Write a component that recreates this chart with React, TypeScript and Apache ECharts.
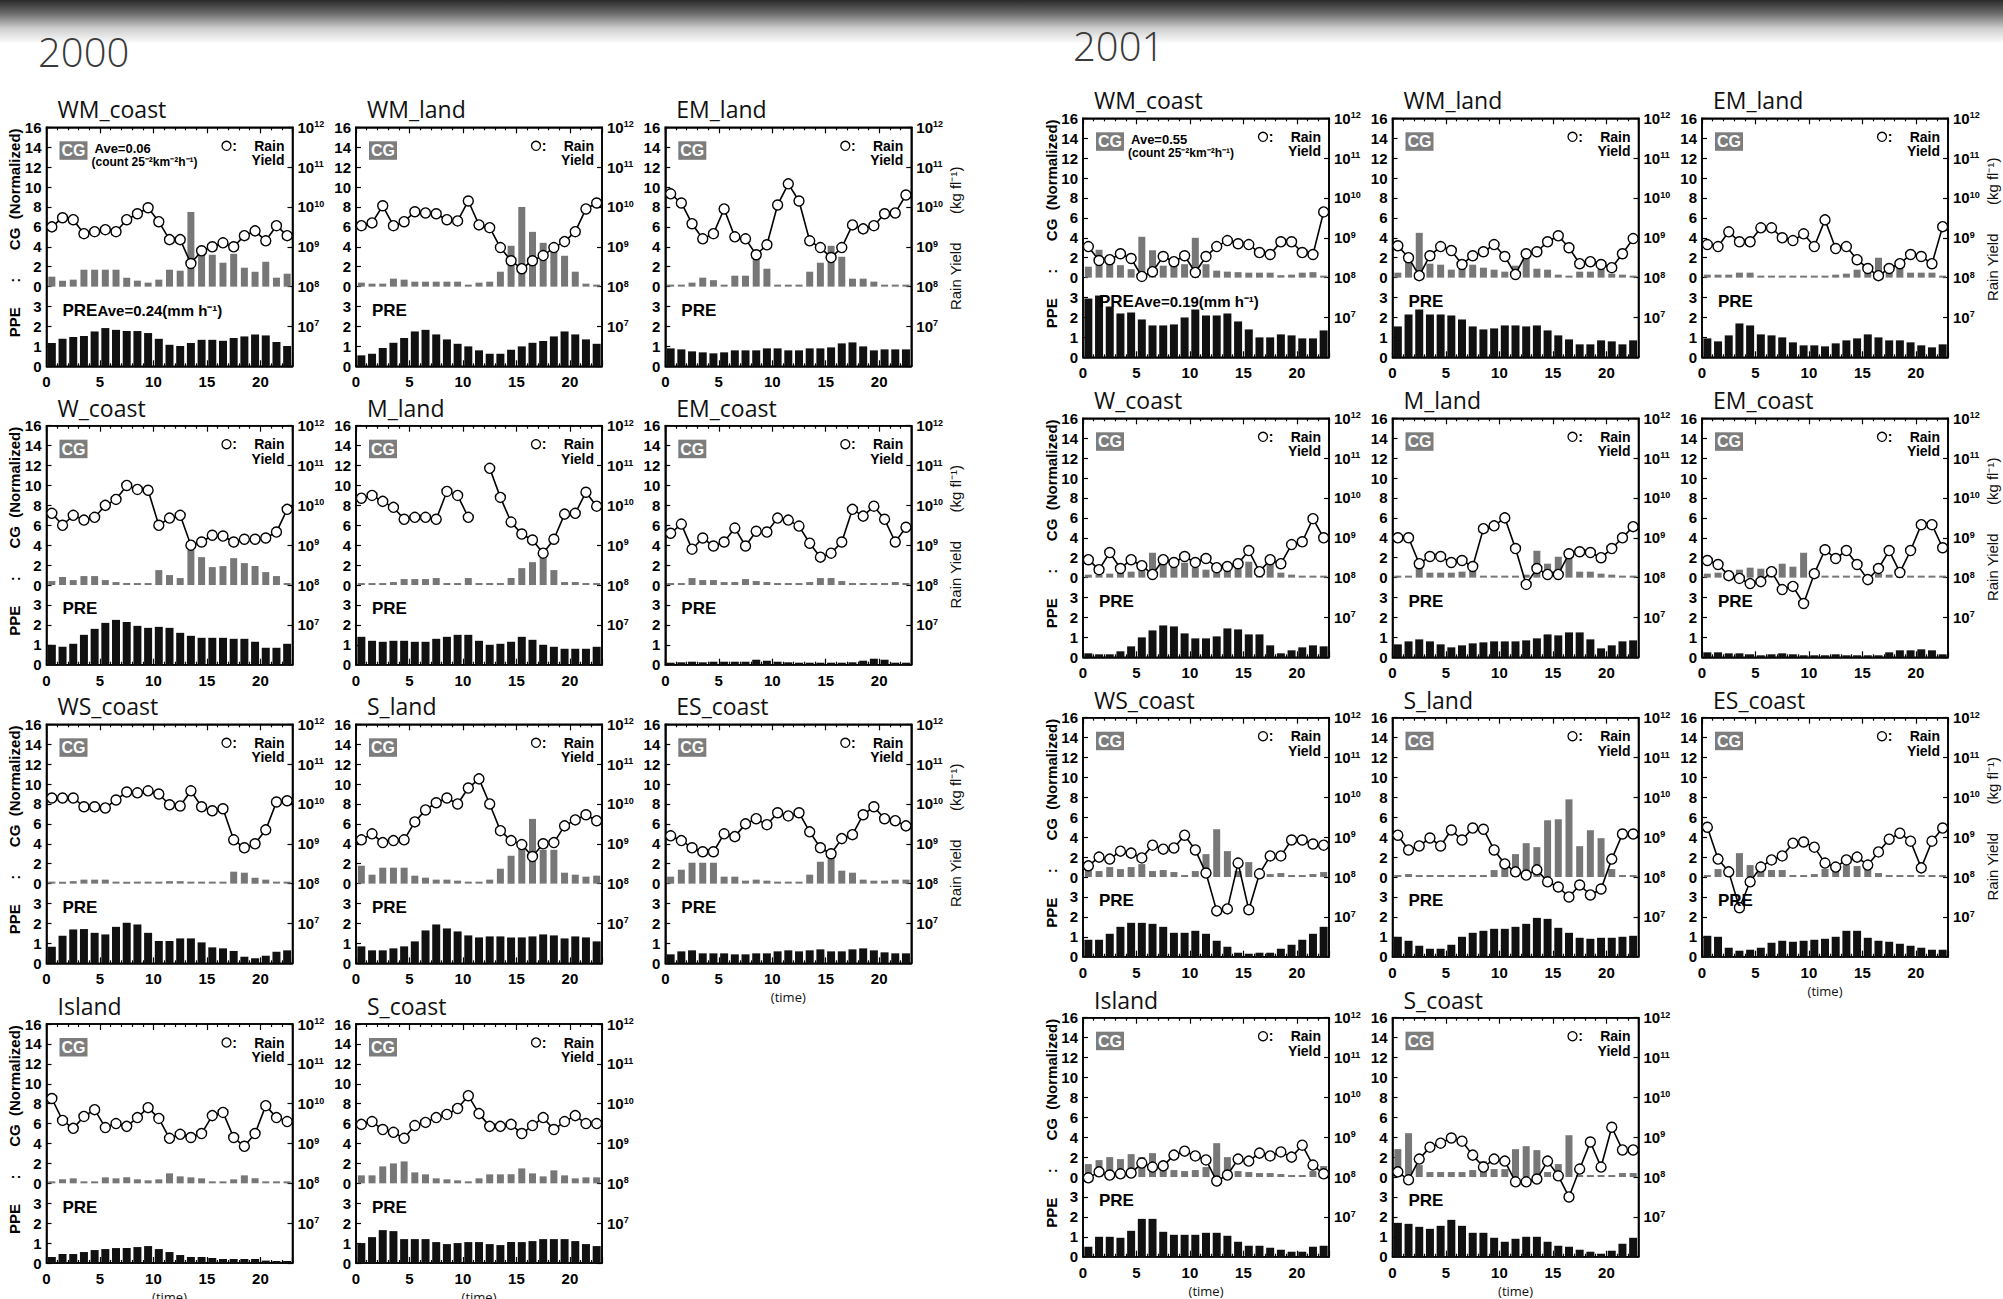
import React, { useEffect, useRef } from 'react';
import * as echarts from 'echarts';

// ---------- categories ----------
const HOUR_MID = [0.5, 1.5, 2.5, 3.5, 4.5, 5.5, 6.5, 7.5, 8.5, 9.5, 10.5, 11.5, 12.5, 13.5, 14.5, 15.5, 16.5, 17.5, 18.5, 19.5, 20.5, 21.5, 22.5];
const REGIONS = ['WM_coast', 'WM_land', 'EM_land', 'W_coast', 'M_land', 'EM_coast', 'WS_coast', 'S_land', 'ES_coast', 'Island', 'S_coast'];
const YEARS = ['2000', '2001'];
const RY_TICKS = [7, 8, 9, 10, 11, 12]; // log10 rain yield labels (10^n)

// ---------- 2000 ----------  CG: normalized CG, RY: log10 rain yield (kg fl^-1), PRE: mm h^-1
const CG_2000_WM_COAST = [1.0, 0.6, 0.7, 1.7, 1.7, 1.7, 1.7, 0.9, 0.6, 0.4, 0.7, 1.7, 1.6, 7.5, 3.5, 3.2, 2.4, 3.3, 1.9, 1.5, 2.5, 0.9, 1.3];
const RY_2000_WM_COAST = [9.50, 9.73, 9.68, 9.33, 9.38, 9.43, 9.38, 9.68, 9.83, 9.98, 9.63, 9.18, 9.18, 8.58, 8.90, 9.00, 9.10, 9.00, 9.28, 9.40, 9.15, 9.53, 9.28];
const PRE_2000_WM_COAST = [1.17, 1.38, 1.47, 1.52, 1.75, 1.92, 1.83, 1.77, 1.77, 1.67, 1.38, 1.08, 1.02, 1.17, 1.33, 1.33, 1.28, 1.42, 1.5, 1.6, 1.55, 1.22, 1.02];

const CG_2000_WM_LAND = [0.4, 0.3, 0.3, 0.8, 0.7, 0.5, 0.5, 0.5, 0.5, 0.5, 0.1, 0.4, 0.5, 1.5, 4.1, 8.0, 5.5, 4.4, 3.8, 3.1, 1.5, 0.3, 0.2];
const RY_2000_WM_LAND = [9.53, 9.60, 10.03, 9.53, 9.63, 9.88, 9.85, 9.83, 9.68, 9.65, 10.15, 9.55, 9.48, 8.98, 8.65, 8.45, 8.65, 8.78, 8.98, 9.13, 9.38, 9.95, 10.10];
const PRE_2000_WM_LAND = [0.55, 0.63, 0.92, 1.18, 1.42, 1.75, 1.83, 1.6, 1.35, 1.13, 1.0, 0.8, 0.63, 0.63, 0.83, 1.0, 1.18, 1.27, 1.5, 1.75, 1.6, 1.35, 1.13];

const CG_2000_EM_LAND = [0.15, 0.15, 0.4, 0.9, 0.65, 0.2, 1.1, 1.1, 3.0, 1.8, 0.15, 0.05, 0.15, 1.5, 2.4, 4.1, 3.0, 0.8, 0.8, 0.5, 0.2, 0.2, 0.2];
const RY_2000_EM_LAND = [10.33, 10.10, 9.58, 9.20, 9.33, 9.95, 9.25, 9.20, 8.80, 9.05, 10.05, 10.58, 10.15, 9.15, 8.98, 8.73, 8.98, 9.55, 9.45, 9.53, 9.83, 9.85, 10.30];
const PRE_2000_EM_LAND = [0.9, 0.85, 0.75, 0.7, 0.65, 0.7, 0.8, 0.8, 0.8, 0.9, 0.9, 0.8, 0.8, 0.9, 0.9, 0.95, 1.15, 1.2, 1.0, 0.8, 0.85, 0.85, 0.85];

const CG_2000_W_COAST = [0.4, 0.8, 0.5, 0.9, 0.9, 0.5, 0.3, 0.15, 0.15, 0.15, 1.5, 1.0, 0.7, 3.5, 2.8, 1.8, 1.9, 2.7, 2.2, 1.9, 1.3, 0.9, 0.2];
const RY_2000_W_COAST = [9.80, 9.50, 9.75, 9.63, 9.70, 10.00, 10.15, 10.50, 10.40, 10.38, 9.50, 9.68, 9.75, 9.00, 9.08, 9.25, 9.23, 9.08, 9.15, 9.15, 9.18, 9.33, 9.90];
const PRE_2000_W_COAST = [1.0, 0.9, 1.05, 1.5, 1.8, 2.1, 2.25, 2.15, 1.95, 1.85, 1.9, 1.85, 1.6, 1.45, 1.35, 1.35, 1.35, 1.3, 1.3, 1.15, 0.85, 0.85, 1.05];

const CG_2000_M_LAND = [0.15, 0.15, 0.2, 0.3, 0.6, 0.6, 0.6, 0.7, 0.2, 0.2, 0.7, 0.05, 0.05, 0.2, 0.7, 1.7, 2.3, 3.0, 1.5, 0.3, 0.3, 0.1, 0.2];
const RY_2000_M_LAND = [10.18, 10.25, 10.10, 9.95, 9.65, 9.70, 9.70, 9.65, 10.35, 10.25, 9.70, null, 10.93, 10.20, 9.58, 9.28, 9.13, 8.80, 9.15, 9.78, 9.80, 10.33, 9.98];
const PRE_2000_M_LAND = [1.4, 1.2, 1.15, 1.2, 1.2, 1.15, 1.15, 1.3, 1.4, 1.5, 1.5, 1.2, 1.0, 1.05, 1.15, 1.4, 1.25, 1.0, 0.9, 0.8, 0.8, 0.8, 0.9];

const CG_2000_EM_COAST = [0.15, 0.2, 0.7, 0.5, 0.5, 0.3, 0.3, 0.6, 0.4, 0.3, 0.15, 0.15, 0.15, 0.3, 0.7, 0.7, 0.4, 0.15, 0.15, 0.15, 0.1, 0.3, 0.1];
const RY_2000_EM_COAST = [9.30, 9.53, 8.90, 9.18, 8.98, 9.08, 9.43, 8.98, 9.35, 9.33, 9.68, 9.63, 9.48, 9.05, 8.70, 8.80, 9.08, 9.90, 9.73, 9.98, 9.65, 9.08, 9.45];
const PRE_2000_EM_COAST = [0.08, 0.12, 0.15, 0.12, 0.15, 0.15, 0.15, 0.15, 0.25, 0.2, 0.15, 0.12, 0.1, 0.08, 0.05, 0.08, 0.1, 0.12, 0.2, 0.3, 0.25, 0.1, 0.08];

const CG_2000_WS_COAST = [0.15, 0.15, 0.25, 0.4, 0.4, 0.4, 0.2, 0.2, 0.2, 0.15, 0.15, 0.25, 0.25, 0.15, 0.2, 0.2, 0.2, 1.2, 1.1, 0.6, 0.4, 0.1, 0.1];
const RY_2000_WS_COAST = [10.15, 10.15, 10.15, 9.93, 9.93, 9.90, 10.10, 10.30, 10.28, 10.33, 10.25, 9.98, 9.95, 10.33, 9.93, 9.83, 9.88, 9.10, 8.90, 9.00, 9.35, 10.05, 10.08];
const PRE_2000_WS_COAST = [0.83, 1.38, 1.7, 1.72, 1.53, 1.45, 1.83, 2.03, 1.95, 1.53, 1.12, 1.12, 1.25, 1.25, 1.05, 0.8, 0.75, 0.62, 0.33, 0.25, 0.38, 0.58, 0.65];

const CG_2000_S_LAND = [1.8, 0.9, 1.6, 1.6, 1.6, 0.8, 0.6, 0.4, 0.4, 0.3, 0.1, 0.05, 0.4, 1.5, 2.8, 3.5, 6.5, 3.4, 3.4, 1.1, 0.9, 0.7, 0.8];
const RY_2000_S_LAND = [9.10, 9.25, 9.03, 9.08, 9.10, 9.55, 9.85, 10.03, 10.15, 10.00, 10.40, 10.63, 10.00, 9.33, 9.08, 8.98, 8.68, 9.00, 9.03, 9.45, 9.60, 9.73, 9.58];
const PRE_2000_S_LAND = [0.85, 0.65, 0.65, 0.75, 0.85, 1.1, 1.65, 1.95, 1.75, 1.6, 1.4, 1.3, 1.35, 1.35, 1.3, 1.3, 1.35, 1.45, 1.4, 1.25, 1.35, 1.3, 1.1];

const CG_2000_ES_COAST = [0.7, 1.4, 2.1, 2.1, 2.1, 0.7, 0.7, 0.3, 0.4, 0.3, 0.2, 0.2, 0.2, 0.9, 2.2, 2.8, 1.3, 1.1, 0.4, 0.3, 0.3, 0.4, 0.4];
const RY_2000_ES_COAST = [9.20, 9.08, 8.90, 8.80, 8.80, 9.25, 9.18, 9.50, 9.63, 9.48, 9.78, 9.70, 9.78, 9.30, 8.90, 8.75, 9.13, 9.23, 9.73, 9.93, 9.63, 9.58, 9.45];
const PRE_2000_ES_COAST = [0.45, 0.6, 0.65, 0.5, 0.5, 0.5, 0.45, 0.45, 0.5, 0.5, 0.6, 0.65, 0.6, 0.65, 0.7, 0.6, 0.6, 0.7, 0.75, 0.65, 0.55, 0.5, 0.5];

const CG_2000_ISLAND = [0.15, 0.4, 0.5, 0.2, 0.2, 0.6, 0.5, 0.6, 0.4, 0.3, 0.4, 1.0, 0.7, 0.6, 0.5, 0.15, 0.15, 0.4, 0.8, 0.5, 0.1, 0.1, 0.1];
const RY_2000_ISLAND = [10.13, 9.58, 9.38, 9.68, 9.85, 9.40, 9.50, 9.43, 9.65, 9.90, 9.63, 9.13, 9.23, 9.15, 9.25, 9.70, 9.78, 9.15, 8.93, 9.25, 9.95, 9.65, 9.55];
const PRE_2000_ISLAND = [0.3, 0.45, 0.45, 0.55, 0.65, 0.7, 0.75, 0.75, 0.8, 0.85, 0.7, 0.55, 0.4, 0.3, 0.3, 0.25, 0.2, 0.2, 0.2, 0.2, 0.12, 0.08, 0.08];

const CG_2000_S_COAST = [0.8, 0.8, 1.7, 2.0, 2.2, 1.1, 0.9, 0.5, 0.4, 0.3, 0.15, 0.5, 0.9, 0.9, 0.9, 1.5, 1.0, 0.7, 1.3, 0.8, 0.5, 0.6, 0.6];
const RY_2000_S_COAST = [9.48, 9.55, 9.35, 9.28, 9.13, 9.45, 9.53, 9.65, 9.73, 9.88, 10.20, 9.75, 9.43, 9.43, 9.48, 9.25, 9.45, 9.65, 9.35, 9.55, 9.70, 9.50, 9.50];
const PRE_2000_S_COAST = [1.0, 1.3, 1.65, 1.6, 1.2, 1.2, 1.2, 1.05, 0.95, 1.0, 1.05, 1.05, 0.95, 0.9, 1.05, 1.05, 1.1, 1.2, 1.2, 1.2, 1.1, 0.95, 0.85];

// ---------- 2001 ----------
const CG_2001_WM_COAST = [1.1, 2.8, 1.4, 1.25, 0.85, 4.1, 2.75, 1.2, 1.45, 1.35, 4.0, 1.35, 0.7, 0.6, 0.55, 0.5, 0.5, 0.5, 0.25, 0.3, 0.5, 0.55, 0.15];
const RY_2001_WM_COAST = [8.78, 8.43, 8.45, 8.60, 8.48, 8.03, 8.15, 8.53, 8.40, 8.55, 8.13, 8.53, 8.78, 8.93, 8.85, 8.83, 8.63, 8.58, 8.90, 8.90, 8.63, 8.58, 9.65];
const PRE_2001_WM_COAST = [2.95, 3.1, 2.55, 2.2, 2.25, 1.9, 1.6, 1.6, 1.65, 2.0, 2.4, 2.1, 2.1, 2.2, 1.8, 1.4, 1.0, 1.0, 1.15, 1.1, 0.95, 0.95, 1.35];

const CG_2001_WM_LAND = [0.5, 1.6, 4.5, 1.4, 1.3, 0.8, 1.0, 1.3, 1.0, 0.8, 0.6, 1.2, 2.8, 0.9, 0.8, 0.3, 0.2, 0.6, 0.6, 0.9, 0.4, 0.3, 0.2];
const RY_2001_WM_LAND = [8.80, 8.50, 8.05, 8.55, 8.78, 8.68, 8.33, 8.55, 8.65, 8.83, 8.53, 8.08, 8.60, 8.65, 8.90, 9.05, 8.75, 8.35, 8.40, 8.33, 8.25, 8.60, 8.98];
const PRE_2001_WM_LAND = [1.55, 2.15, 2.4, 2.15, 2.15, 2.1, 1.9, 1.55, 1.4, 1.45, 1.6, 1.6, 1.55, 1.6, 1.35, 1.1, 0.9, 0.65, 0.65, 0.85, 0.8, 0.65, 0.85];

const CG_2001_EM_LAND = [0.3, 0.3, 0.3, 0.5, 0.5, 0.15, 0.15, 0.15, 0.15, 0.15, 0.15, 0.1, 0.3, 0.4, 0.8, 1.1, 2.0, 1.2, 1.0, 0.5, 0.5, 0.5, 0.2];
const RY_2001_EM_LAND = [8.83, 8.78, 9.15, 8.90, 8.90, 9.25, 9.25, 9.00, 8.93, 9.10, 8.78, 9.45, 8.73, 8.78, 8.45, 8.23, 8.05, 8.23, 8.35, 8.58, 8.53, 8.35, 9.28];
const PRE_2001_EM_LAND = [0.95, 0.8, 1.1, 1.7, 1.6, 1.15, 1.1, 1.0, 0.75, 0.6, 0.6, 0.55, 0.7, 0.85, 0.95, 1.15, 1.0, 0.85, 0.85, 0.75, 0.6, 0.5, 0.65];

const CG_2001_W_COAST = [0.3, 0.3, 0.4, 0.5, 0.6, 1.0, 2.5, 1.5, 1.8, 1.5, 1.0, 0.8, 0.7, 1.0, 1.9, 1.6, 0.6, 1.8, 0.5, 0.3, 0.15, 0.15, 0.15];
const RY_2001_W_COAST = [8.45, 8.20, 8.63, 8.23, 8.45, 8.30, 8.08, 8.45, 8.38, 8.53, 8.38, 8.48, 8.25, 8.28, 8.35, 8.68, 8.15, 8.45, 8.35, 8.83, 8.90, 9.48, 9.00];
const PRE_2001_W_COAST = [0.2, 0.15, 0.15, 0.3, 0.55, 1.0, 1.35, 1.6, 1.55, 1.2, 0.95, 0.95, 1.05, 1.45, 1.4, 1.15, 1.15, 0.6, 0.2, 0.35, 0.5, 0.6, 0.55];

const CG_2001_M_LAND = [0.15, 0.15, 1.0, 0.5, 0.5, 0.5, 0.6, 1.4, 0.15, 0.15, 0.1, 0.15, 0.3, 2.7, 1.4, 2.1, 2.1, 0.6, 0.6, 0.4, 0.3, 0.2, 0.2];
const RY_2001_M_LAND = [9.00, 9.00, 8.35, 8.53, 8.53, 8.38, 8.43, 8.28, 9.23, 9.30, 9.50, 8.73, 7.83, 8.23, 8.08, 8.08, 8.60, 8.65, 8.63, 8.50, 8.73, 9.00, 9.28];
const PRE_2001_M_LAND = [0.65, 0.8, 0.9, 0.8, 0.65, 0.5, 0.6, 0.7, 0.75, 0.8, 0.8, 0.8, 0.85, 0.95, 1.15, 1.1, 1.25, 1.25, 0.9, 0.45, 0.6, 0.8, 0.85];

const CG_2001_EM_COAST = [0.4, 0.5, 0.7, 0.8, 1.0, 0.9, 0.6, 1.4, 1.1, 2.5, 0.15, 0.15, 0.2, 0.15, 0.1, 0.1, 0.4, 0.3, 0.2, 0.15, 0.1, 0.1, 0.1];
const RY_2001_EM_COAST = [8.43, 8.33, 8.05, 7.98, 7.85, 7.90, 8.15, 7.70, 7.78, 7.35, 8.10, 8.70, 8.48, 8.68, 8.33, 7.95, 8.23, 8.68, 8.13, 8.68, 9.33, 9.33, 8.75];
const PRE_2001_EM_COAST = [0.25, 0.25, 0.2, 0.2, 0.15, 0.1, 0.15, 0.2, 0.15, 0.1, 0.05, 0.1, 0.15, 0.1, 0.05, 0.05, 0.1, 0.25, 0.35, 0.35, 0.4, 0.35, 0.15];

const CG_2001_WS_COAST = [0.8, 0.6, 1.0, 0.8, 1.0, 1.3, 0.6, 0.7, 0.5, 0.2, 0.6, 2.3, 4.8, 2.6, 0.6, 1.5, 0.7, 0.3, 0.4, 0.2, 0.2, 0.3, 0.5];
const RY_2001_WS_COAST = [8.28, 8.50, 8.45, 8.65, 8.60, 8.48, 8.80, 8.70, 8.73, 9.05, 8.68, 8.10, 7.15, 7.20, 8.35, 7.18, 8.08, 8.53, 8.53, 8.93, 8.93, 8.83, 8.80];
const PRE_2001_WS_COAST = [0.85, 0.85, 1.15, 1.5, 1.7, 1.7, 1.65, 1.5, 1.2, 1.2, 1.3, 1.15, 0.8, 0.5, 0.2, 0.15, 0.2, 0.2, 0.4, 0.6, 0.85, 1.15, 1.5];

const CG_2001_S_LAND = [0.1, 0.3, 0.15, 0.15, 0.15, 0.15, 0.2, 0.15, 0.15, 0.7, 1.2, 2.3, 3.4, 3.0, 5.7, 5.8, 7.8, 3.1, 4.7, 3.9, 0.8, 0.15, 0.15];
const RY_2001_S_LAND = [9.05, 8.68, 8.78, 8.98, 8.78, 9.18, 8.93, 9.23, 9.20, 8.68, 8.33, 8.13, 8.05, 8.18, 7.88, 7.75, 7.50, 7.80, 7.55, 7.70, 8.45, 9.08, 9.08];
const PRE_2001_S_LAND = [1.0, 0.8, 0.55, 0.4, 0.4, 0.6, 1.0, 1.2, 1.3, 1.4, 1.4, 1.5, 1.65, 1.95, 1.9, 1.45, 1.2, 0.95, 0.9, 0.95, 0.95, 1.0, 1.05];

const CG_2001_ES_COAST = [0.15, 0.8, 0.6, 2.4, 1.2, 1.1, 0.7, 0.7, 0.2, 0.2, 0.3, 0.8, 1.4, 1.2, 1.1, 1.2, 0.4, 0.15, 0.1, 0.1, 0.15, 0.1, 0.1];
const RY_2001_ES_COAST = [9.25, 8.45, 8.13, 7.23, 7.88, 8.25, 8.43, 8.53, 8.85, 8.88, 8.75, 8.35, 8.25, 8.43, 8.50, 8.30, 8.63, 8.95, 9.10, 8.90, 8.23, 8.90, 9.23];
const PRE_2001_ES_COAST = [1.05, 1.0, 0.45, 0.3, 0.35, 0.45, 0.7, 0.8, 0.75, 0.8, 0.85, 0.9, 1.0, 1.3, 1.3, 0.95, 0.8, 0.75, 0.65, 0.55, 0.45, 0.35, 0.35];

const CG_2001_ISLAND = [1.3, 1.7, 2.0, 1.8, 2.3, 2.0, 2.4, 1.6, 0.7, 0.6, 0.7, 1.0, 3.4, 2.0, 0.6, 0.5, 0.4, 0.4, 0.3, 0.2, 0.1, 0.6, 1.1];
const RY_2001_ISLAND = [7.98, 8.13, 8.05, 8.08, 8.10, 8.35, 8.25, 8.28, 8.55, 8.65, 8.53, 8.43, 7.90, 8.05, 8.45, 8.40, 8.60, 8.53, 8.63, 8.50, 8.80, 8.30, 8.08];
const PRE_2001_ISLAND = [0.5, 1.0, 1.0, 0.95, 1.3, 1.9, 1.9, 1.25, 1.1, 1.1, 1.1, 1.2, 1.2, 1.05, 0.75, 0.55, 0.55, 0.45, 0.35, 0.25, 0.25, 0.5, 0.55];

const CG_2001_S_COAST = [2.8, 4.4, 1.2, 0.5, 0.5, 0.5, 0.5, 0.7, 1.6, 0.8, 0.8, 2.8, 3.1, 2.7, 0.5, 1.3, 4.2, 0.1, 0.1, 0.1, 0.15, 0.4, 0.4];
const RY_2001_S_COAST = [8.13, 7.93, 8.45, 8.75, 8.85, 8.98, 8.90, 8.55, 8.25, 8.45, 8.40, 7.88, 7.88, 7.95, 8.40, 8.03, 7.50, 8.20, 8.88, 8.25, 9.25, 8.68, 8.68];
const PRE_2001_S_COAST = [1.7, 1.65, 1.5, 1.4, 1.55, 1.85, 1.55, 1.2, 1.2, 0.95, 0.75, 0.9, 1.0, 1.0, 0.75, 0.55, 0.5, 0.35, 0.25, 0.15, 0.3, 0.65, 0.95];

// averages printed in the first panel of each year
const AVE_CG: Record<string, string> = { '2000': '0.06', '2001': '0.55' };
const AVE_PRE: Record<string, string> = { '2000': '0.24', '2001': '0.19' };

type Panel = { year: string; region: string; cg: number[]; ry: (number | null)[]; pre: number[] };
const PANELS: Panel[] = [
  { year: '2000', region: 'WM_coast', cg: CG_2000_WM_COAST, ry: RY_2000_WM_COAST, pre: PRE_2000_WM_COAST },
  { year: '2000', region: 'WM_land', cg: CG_2000_WM_LAND, ry: RY_2000_WM_LAND, pre: PRE_2000_WM_LAND },
  { year: '2000', region: 'EM_land', cg: CG_2000_EM_LAND, ry: RY_2000_EM_LAND, pre: PRE_2000_EM_LAND },
  { year: '2000', region: 'W_coast', cg: CG_2000_W_COAST, ry: RY_2000_W_COAST, pre: PRE_2000_W_COAST },
  { year: '2000', region: 'M_land', cg: CG_2000_M_LAND, ry: RY_2000_M_LAND, pre: PRE_2000_M_LAND },
  { year: '2000', region: 'EM_coast', cg: CG_2000_EM_COAST, ry: RY_2000_EM_COAST, pre: PRE_2000_EM_COAST },
  { year: '2000', region: 'WS_coast', cg: CG_2000_WS_COAST, ry: RY_2000_WS_COAST, pre: PRE_2000_WS_COAST },
  { year: '2000', region: 'S_land', cg: CG_2000_S_LAND, ry: RY_2000_S_LAND, pre: PRE_2000_S_LAND },
  { year: '2000', region: 'ES_coast', cg: CG_2000_ES_COAST, ry: RY_2000_ES_COAST, pre: PRE_2000_ES_COAST },
  { year: '2000', region: 'Island', cg: CG_2000_ISLAND, ry: RY_2000_ISLAND, pre: PRE_2000_ISLAND },
  { year: '2000', region: 'S_coast', cg: CG_2000_S_COAST, ry: RY_2000_S_COAST, pre: PRE_2000_S_COAST },
  { year: '2001', region: 'WM_coast', cg: CG_2001_WM_COAST, ry: RY_2001_WM_COAST, pre: PRE_2001_WM_COAST },
  { year: '2001', region: 'WM_land', cg: CG_2001_WM_LAND, ry: RY_2001_WM_LAND, pre: PRE_2001_WM_LAND },
  { year: '2001', region: 'EM_land', cg: CG_2001_EM_LAND, ry: RY_2001_EM_LAND, pre: PRE_2001_EM_LAND },
  { year: '2001', region: 'W_coast', cg: CG_2001_W_COAST, ry: RY_2001_W_COAST, pre: PRE_2001_W_COAST },
  { year: '2001', region: 'M_land', cg: CG_2001_M_LAND, ry: RY_2001_M_LAND, pre: PRE_2001_M_LAND },
  { year: '2001', region: 'EM_coast', cg: CG_2001_EM_COAST, ry: RY_2001_EM_COAST, pre: PRE_2001_EM_COAST },
  { year: '2001', region: 'WS_coast', cg: CG_2001_WS_COAST, ry: RY_2001_WS_COAST, pre: PRE_2001_WS_COAST },
  { year: '2001', region: 'S_land', cg: CG_2001_S_LAND, ry: RY_2001_S_LAND, pre: PRE_2001_S_LAND },
  { year: '2001', region: 'ES_coast', cg: CG_2001_ES_COAST, ry: RY_2001_ES_COAST, pre: PRE_2001_ES_COAST },
  { year: '2001', region: 'Island', cg: CG_2001_ISLAND, ry: RY_2001_ISLAND, pre: PRE_2001_ISLAND },
  { year: '2001', region: 'S_coast', cg: CG_2001_S_COAST, ry: RY_2001_S_COAST, pre: PRE_2001_S_COAST },
];

// ---------- layout ----------
const PW = 246;
const PH = 239;
const COL_LEFT: Record<string, number[]> = { '2000': [46.5, 356, 665.3], '2001': [1083, 1392.5, 1702] };
const ROW_TOP: Record<string, number[]> = { '2000': [127.3, 425.7, 724.3, 1024], '2001': [118.3, 418.3, 717.7, 1017.7] };
const YEAR_POS: Record<string, [number, number]> = { '2000': [38, 51], '2001': [1073, 45] };
const TIME_LABEL_REGIONS = ['ES_coast', 'Island', 'S_coast'];

const NUM_FONT = '"Liberation Sans", Arial, sans-serif';
const TITLE_FONT = '"Open Sans", "Noto Sans", sans-serif';

function txt(x: number, y: number, text: string, font: string, align: string, extra: any = {}) {
  return {
    type: 'text', x, y, z: 11, ...extra,
    style: { text, font, fill: extra.fill || '#000', align, verticalAlign: 'middle', textAlign: align, textVerticalAlign: 'middle' },
  };
}

function buildOption() {
  const grid: any[] = [];
  const xAxis: any[] = [];
  const yAxis: any[] = [];
  const series: any[] = [];
  const graphic: any[] = [];

  graphic.push({
    type: 'rect', z: 0, silent: true,
    shape: { x: 0, y: 0, width: 2003, height: 44 },
    style: {
      fill: {
        type: 'linear', x: 0, y: 0, x2: 0, y2: 1,
        colorStops: [
          { offset: 0, color: '#2a2a2a' },
          { offset: 0.3, color: '#6a6a6a' },
          { offset: 0.65, color: '#cfcfcf' },
          { offset: 1, color: '#ffffff' },
        ],
      },
    },
  });
  YEARS.forEach((y) => {
    const [x, yy] = YEAR_POS[y];
    graphic.push({ ...txt(x, yy, y, `300 40px ${TITLE_FONT}`, 'left'), style: { text: y, font: `300 40px ${TITLE_FONT}`, fill: '#3a3a3a', align: 'left', verticalAlign: 'middle', textAlign: 'left', textVerticalAlign: 'middle' } });
  });

  const axisLine = { show: true, onZero: false, lineStyle: { color: '#000', width: 1.6 } };
  const tickStyle = { color: '#000', width: 1.2 };

  PANELS.forEach((p, i) => {
    const k = REGIONS.indexOf(p.region);
    const col = k % 3;
    const row = Math.floor(k / 3);
    const left = COL_LEFT[p.year][col];
    const top = ROW_TOP[p.year][row];
    const right = left + PW;
    const bottom = top + PH;

    grid.push({ left, top, width: PW, height: PH, show: true, borderColor: '#000', borderWidth: 1.6, backgroundColor: 'transparent', containLabel: false });

    xAxis.push({
      gridIndex: i, type: 'value', min: 0, max: 23, interval: 5, position: 'bottom',
      axisLine, axisTick: { inside: true, length: 6, lineStyle: tickStyle },
      minorTick: { show: true, splitNumber: 5, length: 3, lineStyle: tickStyle },
      splitLine: { show: false }, minorSplitLine: { show: false },
      axisLabel: {
        margin: 8, fontSize: 15, fontWeight: 'bold', fontFamily: NUM_FONT, color: '#000',
        showMaxLabel: false,
        formatter: (v: number) => (v % 5 === 0 ? String(v) : ''),
      },
    });
    xAxis.push({
      gridIndex: i, type: 'value', min: 0, max: 23, interval: 5, position: 'top',
      axisLine, axisTick: { inside: true, length: 6, lineStyle: tickStyle },
      minorTick: { show: true, splitNumber: 5, length: 3, lineStyle: tickStyle },
      splitLine: { show: false }, axisLabel: { show: false },
    });
    yAxis.push({
      gridIndex: i, type: 'value', min: -8, max: 16, interval: 2, position: 'left',
      axisLine, axisTick: { inside: true, length: 5, lineStyle: tickStyle },
      splitLine: { show: false },
      axisLabel: {
        margin: 5, fontSize: 15, fontWeight: 'bold', fontFamily: NUM_FONT, color: '#000',
        formatter: (v: number) => (v >= 0 ? String(v) : String((v + 8) / 2)),
      },
    });
    yAxis.push({
      gridIndex: i, type: 'value', min: 6, max: 12, interval: 1, position: 'right',
      axisLine, axisTick: { inside: true, length: 5, lineStyle: tickStyle },
      splitLine: { show: false },
      axisLabel: {
        margin: 5, color: '#000',
        formatter: (v: number) => (RY_TICKS.indexOf(Math.round(v)) >= 0 ? `{b|10}{s|${Math.round(v)}}` : ''),
        rich: {
          b: { fontSize: 15, fontWeight: 'bold', fontFamily: NUM_FONT, color: '#000' },
          s: { fontSize: 9, fontWeight: 'bold', fontFamily: NUM_FONT, color: '#000', verticalAlign: 'top', lineHeight: 9 },
        },
      },
    });
    yAxis.push({ gridIndex: i, type: 'value', min: 0, max: 12, show: false, splitLine: { show: false } });

    series.push({
      type: 'bar', name: `CG ${p.year} ${p.region}`, xAxisIndex: 2 * i, yAxisIndex: 3 * i,
      data: HOUR_MID.map((x, j) => [x, p.cg[j]]),
      barWidth: 7, barMinHeight: 2, itemStyle: { color: '#777777' }, z: 2,
    });
    series.push({
      type: 'bar', name: `PRE ${p.year} ${p.region}`, xAxisIndex: 2 * i + 1, yAxisIndex: 3 * i + 2,
      data: HOUR_MID.map((x, j) => [x, p.pre[j]]),
      barWidth: 8, barMinHeight: 2, itemStyle: { color: '#111111' }, z: 2,
    });
    series.push({
      type: 'line', name: `Rain Yield ${p.year} ${p.region}`, xAxisIndex: 2 * i, yAxisIndex: 3 * i + 1,
      data: HOUR_MID.map((x, j) => [x, p.ry[j] === null ? '-' : p.ry[j]]),
      symbol: 'circle', symbolSize: 10, connectNulls: false, clip: false,
      lineStyle: { color: '#000', width: 1.6 },
      itemStyle: { color: '#fff', borderColor: '#000', borderWidth: 1.4 },
      z: 5,
    });

    // panel title
    graphic.push(txt(left + 11, top - 18, p.region, `23px ${TITLE_FONT}`, 'left', { fill: '#111' }));
    // CG box
    graphic.push({ type: 'rect', z: 10, shape: { x: left + 13, y: top + 14, width: 28, height: 18.5 }, style: { fill: '#7d7d7d' } });
    graphic.push(txt(left + 27, top + 23.5, 'CG', `bold 16px ${NUM_FONT}`, 'center', { fill: '#fff' }));
    // legend: circle : Rain Yield
    graphic.push({ type: 'circle', z: 11, shape: { cx: right - 66, cy: top + 18.5, r: 4.5 }, style: { fill: '#fff', stroke: '#000', lineWidth: 1.3 } });
    graphic.push(txt(right - 58, top + 18.5, ':', `bold 14px ${NUM_FONT}`, 'center'));
    graphic.push(txt(right - 8, top + 18.5, 'Rain', `bold 14px ${NUM_FONT}`, 'right'));
    graphic.push(txt(right - 8, top + 33, 'Yield', `bold 14px ${NUM_FONT}`, 'right'));

    // PRE label
    const first = k === 0;
    graphic.push({
      type: 'text', x: left + 16, y: top + 183, z: 11,
      style: {
        text: first ? `{p|PRE}{a|Ave=${AVE_PRE[p.year]}(mm h⁻¹)}` : '{p|PRE}',
        align: 'left', verticalAlign: 'middle', textAlign: 'left', textVerticalAlign: 'middle',
        rich: {
          p: { fill: '#000', fontSize: 17, fontWeight: 'bold', fontFamily: NUM_FONT },
          a: { fill: '#000', fontSize: 15, fontWeight: 'bold', fontFamily: NUM_FONT },
        },
      },
    });
    if (first) {
      graphic.push(txt(left + 48, top + 21, `Ave=${AVE_CG[p.year]}`, `bold 13px ${NUM_FONT}`, 'left'));
      graphic.push(txt(left + 45, top + 35, '(count 25⁻²km⁻²h⁻¹)', `bold 12px ${NUM_FONT}`, 'left'));
    }
    // left axis titles
    if (col === 0) {
      const lx = left - 32;
      const items: [string, number][] = [['CG  (Normalized)', top + 62], [':', top + 153], ['PPE', top + 195]];
      items.forEach(([t, cy]) => {
        graphic.push(txt(lx, cy, t, `bold 15px ${NUM_FONT}`, 'center', { rotation: Math.PI / 2 }));
      });
    }
    // right axis titles
    if (col === 2) {
      const rx = right + 44;
      const items: [string, number][] = [['Rain Yield', top + 149], ['(kg fl⁻¹)', top + 63]];
      items.forEach(([t, cy]) => {
        graphic.push(txt(rx, cy, t, `15px ${NUM_FONT}`, 'center', { rotation: Math.PI / 2, fill: '#111' }));
      });
    }
    if (TIME_LABEL_REGIONS.indexOf(p.region) >= 0) {
      graphic.push(txt(left + PW / 2, bottom + 34, '(time)', `13px ${TITLE_FONT}`, 'center', { fill: '#111' }));
    }
  });

  return {
    animation: false,
    backgroundColor: '#ffffff',
    grid, xAxis, yAxis, series, graphic,
  };
}

export default function App() {
  const ref = useRef<HTMLDivElement>(null);
  useEffect(() => {
    if (!ref.current) return;
    const chart = echarts.init(ref.current, null, { renderer: 'svg' });
    chart.setOption(buildOption() as any);
    return () => chart.dispose();
  }, []);
  return <div ref={ref} style={{ position: 'absolute', left: 0, top: 0, width: 2003, height: 1299, background: '#fff' }} />;
}
